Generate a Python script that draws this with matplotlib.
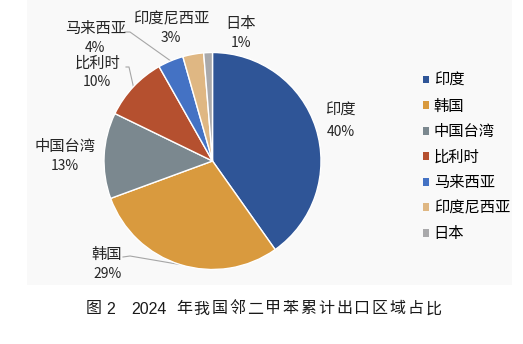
import matplotlib
matplotlib.use("Agg")
import matplotlib.pyplot as plt
from matplotlib.patches import Rectangle, Patch
import numpy as np

plt.rcParams['font.family'] = ['Noto Sans CJK SC', 'DejaVu Sans']

# data (slice angles), labels as printed
regions = ["印度", "韩国", "中国台湾", "比利时", "马来西亚", "印度尼西亚", "日本"]
shares = [40.2, 29.2, 12.8, 9.6, 3.8, 3.1, 1.3]
pct_labels = ["40%", "29%", "13%", "10%", "4%", "3%", "1%"]
colors = ["#2F5597", "#D99A3E", "#7B888F", "#B5502F", "#4472C4", "#DFB783", "#A9A9AB"]
title_parts = ["图", "2", "2024"] + list("年我国邻二甲苯累计出口区域占比")

W, H = 523, 344


def py(y):
    # pixel row (from top) -> data y
    return H - y


fig = plt.figure(figsize=(W / 100, H / 100), dpi=100)
ax = fig.add_axes([0, 0, 1, 1])

# light chart area
ax.add_patch(Rectangle((27, py(285)), 485, 285, facecolor="#F9F9F9",
                       edgecolor="none", zorder=0))

cx, cy, r = 212.5, py(161), 108.5
wedges, _ = ax.pie(shares, colors=colors, startangle=90, counterclock=False,
                   center=(cx, cy), radius=r,
                   wedgeprops=dict(edgecolor="white", linewidth=1))
ax.set_xlim(0, W)
ax.set_ylim(0, H)
ax.set_aspect("equal")
ax.axis("off")

# label placement (pixel coords, name / percent)
name_pos = [(340.5, 110.5), (106.5, 254), (65, 147), (97.5, 63.5),
            (95.5, 28.5), (171, 19), (240.5, 23.5)]
pct_pos = [(341, 132), (107.5, 274), (64.5, 166), (96.5, 82),
           (95, 48), (170.5, 38.5), (241, 43)]
for name, pct, (nx, ny), (qx, qy) in zip(regions, pct_labels, name_pos, pct_pos):
    ax.text(nx, py(ny), name, ha="center", va="center", fontsize=11, color="#262626")
    ax.text(qx, py(qy), pct, ha="center", va="center", fontsize=10, color="#262626")

# leader lines: label elbow -> middle of the slice edge
elbows = {1: [(123, 257), (130, 256)],
          3: [(126, 67), (129, 67)],
          4: [(125, 32), (130, 32)]}
for i, pts in elbows.items():
    w = wedges[i]
    mid = np.deg2rad((w.theta1 + w.theta2) / 2)
    ex, ey = cx + r * np.cos(mid), cy + r * np.sin(mid)
    xs = [p[0] for p in pts] + [ex]
    ys = [py(p[1]) for p in pts] + [ey]
    ax.plot(xs, ys, color="#A6A6A6", lw=0.8, zorder=0.5)

handles = [Patch(facecolor=c, edgecolor="none") for c in colors]
ax.legend(handles, regions, loc="upper left",
          bbox_to_anchor=(423 / W, 1 - 72 / H), frameon=False, fontsize=11,
          handlelength=0.4, handleheight=0.4, handletextpad=0.3,
          labelspacing=0.56, borderpad=0, borderaxespad=0)

# caption, spread out like the source
title_x = [94, 110.5, 149] + [184 + 17.8 * i for i in range(15)]
for s, tx in zip(title_parts, title_x):
    fam = ["Liberation Sans"] if s[0].isdigit() else ["Noto Sans CJK SC", "DejaVu Sans"]
    ax.text(tx, py(309), s, ha="center", va="center", fontsize=11.5,
            family=fam, color="#1A1A1A")

fig.savefig("out.png", dpi=100, facecolor="white")
